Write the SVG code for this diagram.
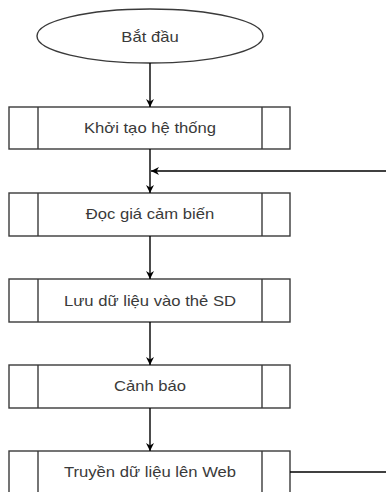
<svg xmlns="http://www.w3.org/2000/svg" width="386" height="492" viewBox="0 0 386 492">
<style>
.box{fill:#fff;stroke:#3a3a3a;stroke-width:1.4}
.lbl{font-family:"Liberation Sans",Arial,sans-serif;font-size:14px;fill:#3a3a3a;text-anchor:middle;dominant-baseline:central}
.con{stroke:#000;stroke-width:1.4;fill:none}
</style>
<defs>
<marker id="arr" viewBox="0 0 10 10" refX="10" refY="5" markerWidth="8" markerHeight="8" markerUnits="userSpaceOnUse" orient="auto">
<path d="M0,0 L10,5 L0,10 L3,5 Z" fill="#000"/>
</marker>
</defs>
<rect width="386" height="492" fill="#fff"/>
<g id="start">
<ellipse class="box" cx="150" cy="36" rx="113" ry="27"/>
<text class="lbl" x="150" y="37" transform="matrix(1.19 0 0 1 -28.5 0)">Bắt đầu</text>
</g>
<g id="init">
<rect class="box" x="9" y="107" width="281" height="42"/>
<line class="box" x1="38" y1="107" x2="38" y2="149"/>
<line class="box" x1="262" y1="107" x2="262" y2="149"/>
<text class="lbl" x="150" y="128" transform="matrix(1.19 0 0 1 -28.5 0)">Khởi tạo hệ thống</text>
</g>
<g id="read">
<rect class="box" x="9" y="193" width="281" height="43"/>
<line class="box" x1="38" y1="193" x2="38" y2="236"/>
<line class="box" x1="262" y1="193" x2="262" y2="236"/>
<text class="lbl" x="150" y="214.5" transform="matrix(1.19 0 0 1 -28.5 0)">Đọc giá cảm biến</text>
</g>
<g id="save">
<rect class="box" x="9" y="279" width="281" height="43"/>
<line class="box" x1="38" y1="279" x2="38" y2="322"/>
<line class="box" x1="262" y1="279" x2="262" y2="322"/>
<text class="lbl" x="150" y="300.5" transform="matrix(1.19 0 0 1 -28.5 0)">Lưu dữ liệu vào thẻ SD</text>
</g>
<g id="warn">
<rect class="box" x="9" y="365" width="281" height="43"/>
<line class="box" x1="38" y1="365" x2="38" y2="408"/>
<line class="box" x1="262" y1="365" x2="262" y2="408"/>
<text class="lbl" x="150" y="386.5" transform="matrix(1.19 0 0 1 -28.5 0)">Cảnh báo</text>
</g>
<g id="send">
<rect class="box" x="9" y="451" width="281" height="60"/>
<line class="box" x1="38" y1="451" x2="38" y2="511"/>
<line class="box" x1="262" y1="451" x2="262" y2="511"/>
<text class="lbl" x="150" y="472" transform="matrix(1.19 0 0 1 -28.5 0)">Truyền dữ liệu lên Web</text>
</g>
<g id="connectors">
<line class="con" x1="150" y1="63" x2="150" y2="107" marker-end="url(#arr)"/>
<line class="con" x1="150" y1="149" x2="150" y2="193" marker-end="url(#arr)"/>
<line class="con" x1="150" y1="236" x2="150" y2="279" marker-end="url(#arr)"/>
<line class="con" x1="150" y1="322" x2="150" y2="365" marker-end="url(#arr)"/>
<line class="con" x1="150" y1="408" x2="150" y2="451" marker-end="url(#arr)"/>
<line class="con" x1="290" y1="472" x2="386" y2="472"/>
<line class="con" x1="386" y1="171" x2="151" y2="171" marker-end="url(#arr)"/>
</g>
</svg>
